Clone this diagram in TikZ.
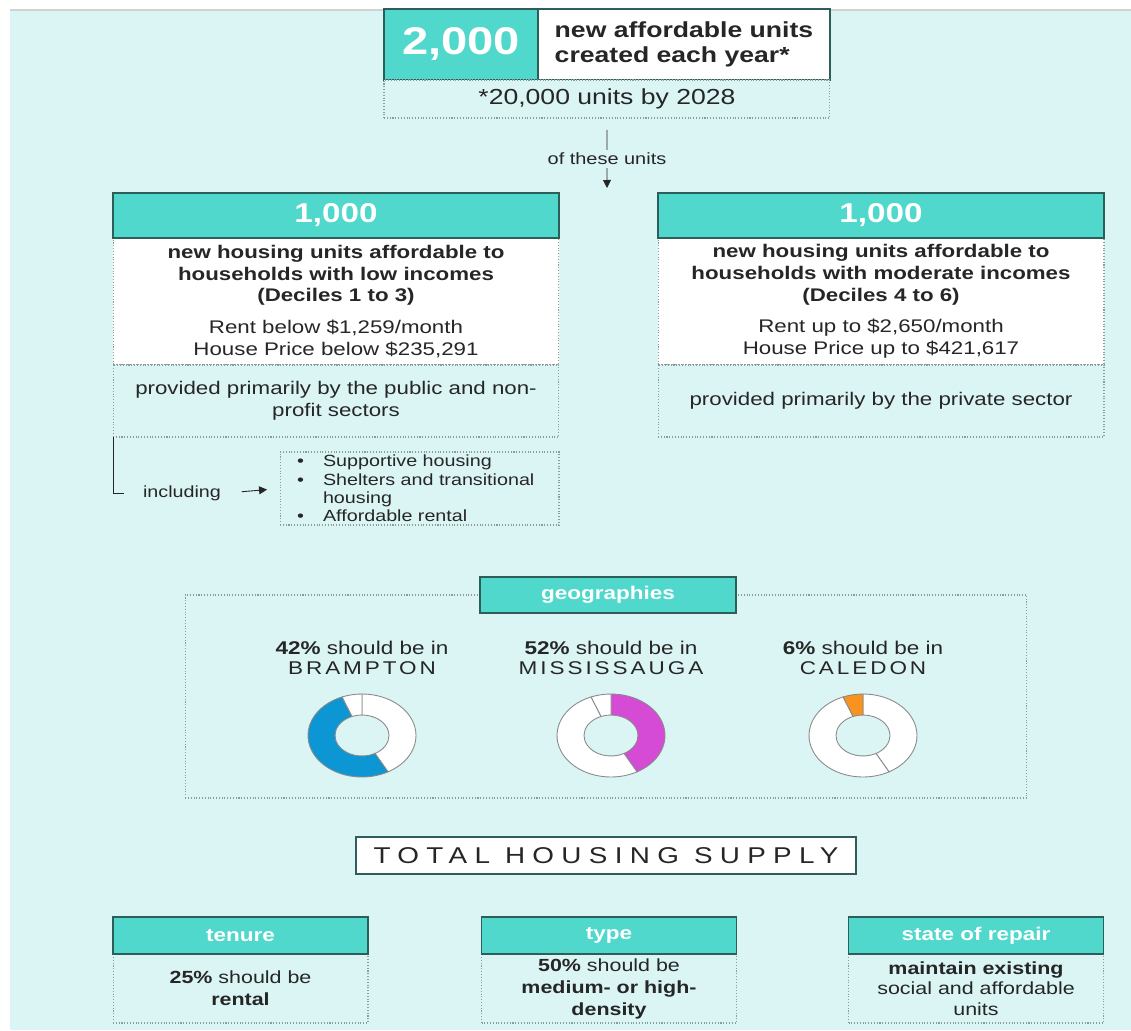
\documentclass[tikz,border=0pt]{standalone}
\usepackage{fontspec}
\setmainfont{Liberation Sans}[FakeStretch=1.22]
\newfontfamily\spacedfont{Liberation Sans}[FakeStretch=1.22,LetterSpace=16]
\newfontfamily\widefont{Liberation Sans}[FakeStretch=1.22,LetterSpace=32]
\usetikzlibrary{positioning,arrows.meta,calc}

\definecolor{bgcyan}{HTML}{DBF5F5}
\definecolor{hdrteal}{HTML}{4FD8CB}
\definecolor{hdrline}{HTML}{2E5E5A}
\definecolor{dotgray}{HTML}{8C9C9C}
\definecolor{inkdark}{HTML}{262626}
\definecolor{ringgray}{HTML}{8A8A8A}
\definecolor{donutblue}{HTML}{0C96D4}
\definecolor{donutpink}{HTML}{D64BD6}
\definecolor{donutorange}{HTML}{F7931E}

\newcommand{\bodysize}{\fontsize{10.4}{12.3}\selectfont}
\newcommand{\kinditem}{\makebox[0.52cm][l]{\textbullet}}
% one ring segment: centre, start angle, end angle, fill
\newcommand{\donutpart}[4]{%
  \filldraw[fill=#4, draw=ringgray, line width=0.5pt]
    ($(#1)+(#2:1.08cm and 0.83cm)$) arc[start angle=#2, end angle=#3, x radius=1.08cm, y radius=0.83cm]
    -- ($(#1)+(#3:0.54cm and 0.41cm)$) arc[start angle=#3, end angle=#2, x radius=0.54cm, y radius=0.41cm]
    -- cycle;}
\newcommand{\donut}[4]{%
  \donutpart{#1}{-61.2}{90}{#2}%
  \donutpart{#1}{111.6}{298.8}{#3}%
  \donutpart{#1}{90}{111.6}{#4}}

\begin{document}
\begin{tikzpicture}[x=0.02cm, y=0.02cm,
    every node/.style={text=inkdark, outer sep=0pt},
    hdr/.style={draw=hdrline, line width=0.9pt, fill=hdrteal, text=white, inner sep=0pt, align=center},
    body/.style={draw=dotgray, densely dotted, line width=0.6pt, fill=white, inner sep=0pt,
                 align=center, font=\bodysize},
    note/.style={draw=dotgray, densely dotted, line width=0.6pt, fill=bgcyan, inner sep=0pt,
                 align=center, font=\bodysize},
    arr/.style={-{Triangle[length=1.6mm, width=1.6mm]}, line width=0.5pt, draw=inkdark},
  ]
  \useasboundingbox (0,0) rectangle (1131,-1030);
  \fill[bgcyan] (10,-9) rectangle (1131,-1030);
  \fill[gray!35] (10,-9) rectangle (1131,-11);

  % Yearly target
  \node[hdr, minimum width=3.08cm, minimum height=1.42cm, font=\bfseries\fontsize{22}{24}\selectfont]
        (big) at (461,-44.5) {2,000};
  \node[draw=hdrline, line width=0.9pt, fill=white, minimum width=5.84cm, minimum height=1.42cm,
        right=0pt of big, align=left, font=\bfseries\fontsize{12.4}{14.5}\selectfont]
        (bigtxt) {new affordable units\\created each year*};
  \node[note, minimum width=8.92cm, minimum height=0.76cm, below=0pt of big.south west, anchor=north west,
        font=\fontsize{12.4}{14}\selectfont] (cum) {*20,000 units by 2028};
  \coordinate (split) at (607,-188);
  \draw[arr] ([yshift=-0.24cm]cum.south) -- node[fill=bgcyan, inner sep=1.5pt, font=\fontsize{9.3}{11}\selectfont]
        {of these units} (split);

  % Low incomes
  \node[body, minimum width=8.92cm, minimum height=2.54cm] (lbody) at (336,-301.5)
        {\textbf{new housing units affordable to}\\\textbf{households with low incomes}\\\textbf{(Deciles 1 to 3)}\\[5.7pt]
         Rent below \$1,259/month\\House Price below \$235,291};
  \node[hdr, minimum width=8.92cm, minimum height=0.9cm, above=0pt of lbody,
        font=\bfseries\fontsize{15.5}{17}\selectfont] (lhead) {1,000};
  \node[note, minimum width=8.92cm, minimum height=1.44cm, below=0pt of lbody] (lprov)
        {provided primarily by the public and non-\\profit sectors};

  % Moderate incomes
  \node[body, minimum width=8.92cm, minimum height=2.54cm] (rbody) at (881,-301.5)
        {\textbf{new housing units affordable to}\\\textbf{households with moderate incomes}\\\textbf{(Deciles 4 to 6)}\\[5.7pt]
         Rent up to \$2,650/month\\House Price up to \$421,617};
  \node[hdr, minimum width=8.92cm, minimum height=0.9cm, above=0pt of rbody,
        font=\bfseries\fontsize{15.5}{17}\selectfont] (rhead) {1,000};
  \node[note, minimum width=8.92cm, minimum height=1.44cm, below=0pt of rbody] (rprov)
        {provided primarily by the private sector};

  % Kinds of low-income housing
  \node[font=\fontsize{9.2}{10.4}\selectfont] (incl) at (182,-493) {including};
  \node[note, minimum width=5.58cm, minimum height=1.46cm, text width=4.9cm, inner xsep=0.34cm,
        align=left, font=\fontsize{9.2}{10.4}\selectfont] (lkinds) at (419.5,-488.5)
        {\kinditem Supportive housing\\\kinditem Shelters and transitional\\\hspace*{0.52cm}housing\\\kinditem Affordable rental};
  \draw[line width=0.5pt, inkdark] (lprov.south west) |- ([xshift=-0.26cm]incl.west);
  \draw[arr, shorten <=0.3cm, shorten >=0.26cm] (incl.east) -- (lkinds.west);

  % Geographies
  \node[draw=dotgray, densely dotted, line width=0.6pt, minimum width=16.84cm, minimum height=4.06cm]
        (geoframe) at (606,-696.5) {};
  \node[hdr, minimum width=5.12cm, minimum height=0.72cm, font=\bfseries\fontsize{10.5}{12}\selectfont]
        (geotab) at (608,-595) {geographies};
  \node[align=center, font=\fontsize{10.5}{11.4}\selectfont] (lbram) at (362,-658)
        {\textbf{42\%} should be in\\{\spacedfont BRAMPTON}};
  \node[align=center, font=\fontsize{10.5}{11.4}\selectfont] (lmiss) at (611,-658)
        {\textbf{52\%} should be in\\{\spacedfont MISSISSAUGA}};
  \node[align=center, font=\fontsize{10.5}{11.4}\selectfont] (lcal) at (863,-658)
        {\textbf{6\%} should be in\\{\spacedfont CALEDON}};
  \coordinate (dbram) at (362,-735.5);
  \coordinate (dmiss) at (611,-735.5);
  \coordinate (dcal) at (863,-735.5);
  \donut{dbram}{white}{donutblue}{white}
  \donut{dmiss}{donutpink}{white}{white}
  \donut{dcal}{white}{white}{donutorange}

  % Total supply
  \node[draw=hdrline, line width=1pt, fill=white, minimum width=10cm, minimum height=0.74cm,
        font=\widefont\fontsize{13}{15}\selectfont] (total) at (606,-855.5) {TOTAL HOUSING SUPPLY};

  \node[note, minimum width=5.1cm, minimum height=1.38cm, font=\fontsize{10}{12.5}\selectfont]
        (tenbody) at (240.5,-988.5) {\textbf{25\%} should be\\\textbf{rental}};
  \node[hdr, minimum width=5.1cm, minimum height=0.74cm, above=0pt of tenbody,
        font=\bfseries\fontsize{10.5}{12}\selectfont] (tenhead) {tenure};
  \node[note, minimum width=5.1cm, minimum height=1.38cm, font=\fontsize{10}{12.5}\selectfont]
        (typebody) at (609,-988.5) {\textbf{50\%} should be\\\textbf{medium- or high-}\\\textbf{density}};
  \node[hdr, minimum width=5.1cm, minimum height=0.74cm, above=0pt of typebody,
        font=\bfseries\fontsize{10.5}{12}\selectfont] (typehead) {type};
  \node[note, minimum width=5.1cm, minimum height=1.38cm, font=\fontsize{10}{11.6}\selectfont]
        (repbody) at (976,-988.5) {\textbf{maintain existing}\\social and affordable\\units};
  \node[hdr, minimum width=5.1cm, minimum height=0.74cm, above=0pt of repbody,
        font=\bfseries\fontsize{10.5}{12}\selectfont] (rephead) {state of repair};
\end{tikzpicture}
\end{document}
